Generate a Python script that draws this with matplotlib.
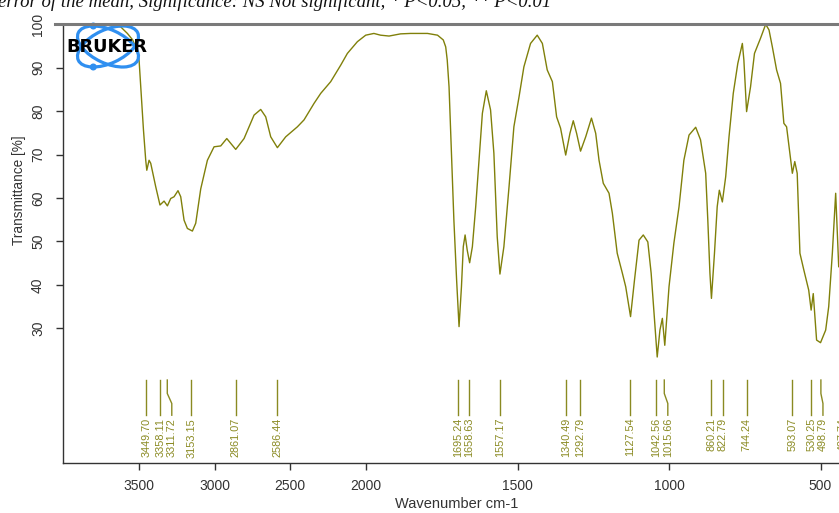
import numpy as np
import matplotlib
matplotlib.use("Agg")
import matplotlib.pyplot as plt
from matplotlib.patches import Ellipse, Circle
from matplotlib.lines import Line2D

# spectrum (wavenumber cm-1, transmittance %)
wavenumber = [3995, 3674, 3619, 3575, 3540, 3513, 3498, 3487, 3469, 3454,
              3447, 3432, 3421, 3388, 3360, 3333, 3311, 3289, 3267, 3241,
              3223, 3201, 3179, 3146, 3124, 3091, 3047, 3003, 2959, 2919,
              2893, 2860, 2805, 2739, 2695, 2662, 2629, 2585, 2530, 2453,
              2409, 2343, 2299, 2233, 2167, 2123, 2057, 2002, 1974, 1952,
              1924, 1886, 1853, 1797, 1764, 1745, 1737, 1732, 1726, 1718,
              1710, 1701, 1693, 1685, 1679, 1673, 1666, 1658, 1649, 1638,
              1627, 1616, 1603, 1589, 1578, 1567, 1558, 1545, 1528, 1512,
              1495, 1479, 1457, 1435, 1418, 1402, 1385, 1371, 1358, 1341,
              1327, 1316, 1305, 1292, 1275, 1256, 1242, 1231, 1217, 1198,
              1187, 1171, 1154, 1143, 1127, 1114, 1099, 1085, 1070, 1059,
              1048, 1039, 1030, 1022, 1014, 1000, 984, 967, 951, 934,
              912, 896, 879, 872, 865, 860, 850, 841, 834, 824,
              813, 802, 788, 773, 758, 753, 744, 731, 718, 698,
              681, 670, 659, 645, 632, 621, 612, 601, 593, 585,
              577, 568, 555, 539, 531, 524, 513, 500, 483, 473,
              461, 450, 440]
transmittance = [100.0, 99.9, 99.4, 97.9, 96.4, 94.1, 91.8, 85.6, 75.7, 68.7,
                 66.4, 68.7, 68.0, 62.6, 58.4, 59.3, 58.2, 59.9, 60.3, 61.7,
                 60.3, 54.9, 53.0, 52.4, 54.2, 62.1, 68.7, 71.8, 72.0, 73.7,
                 72.6, 71.2, 73.7, 79.1, 80.4, 78.7, 74.1, 71.6, 74.1, 76.4,
                 78.0, 81.8, 84.1, 86.8, 90.6, 93.3, 96.0, 97.5, 97.9, 97.5,
                 97.3, 97.8, 97.9, 97.9, 97.5, 96.4, 94.8, 91.8, 85.6, 70.3,
                 54.9, 41.1, 30.4, 39.6, 48.8, 51.5, 48.0, 45.1, 48.8, 58.0,
                 68.7, 79.5, 84.7, 80.3, 70.3, 51.1, 42.5, 48.8, 62.6, 76.4,
                 83.3, 90.2, 95.6, 97.5, 95.6, 89.5, 86.8, 78.7, 76.1, 69.9,
                 74.9, 77.8, 74.9, 70.8, 74.1, 78.4, 74.9, 68.7, 63.4, 61.1,
                 56.5, 47.3, 42.7, 39.6, 32.7, 41.1, 50.3, 51.5, 49.9, 42.7,
                 31.9, 23.4, 29.6, 32.3, 26.1, 39.6, 49.6, 58.0, 68.7, 74.5,
                 76.3, 73.4, 65.7, 54.9, 42.7, 36.9, 47.3, 58.0, 61.8, 59.1,
                 64.9, 74.1, 84.1, 91.0, 95.6, 91.8, 79.9, 85.6, 93.3, 96.8,
                 100.0, 98.7, 94.8, 89.5, 86.4, 77.2, 76.4, 70.3, 65.7, 68.4,
                 65.7, 47.3, 43.4, 38.8, 34.2, 38.0, 27.3, 26.7, 29.6, 35.0,
                 47.3, 61.1, 44.2]

peak_wn = [3449.70, 3358.11, 3311.72, 3153.15, 2861.07, 2586.44, 1695.24,
           1658.63, 1557.17, 1340.49, 1292.79, 1127.54, 1042.56, 1015.66,
           860.21, 822.79, 744.24, 593.07, 530.25, 498.79, 427.74]
# where the label sits when it had to be moved aside
label_wn = [3449.70, 3358.11, 3282.0, 3153.15, 2861.07, 2586.44, 1695.24,
            1658.63, 1557.17, 1340.49, 1292.79, 1127.54, 1042.56, 1004.0,
            860.21, 822.79, 744.24, 593.07, 530.25, 492.0, 427.74]

x_ticks = [3500, 3000, 2500, 2000, 1500, 1000, 500]
y_ticks = [30, 40, 50, 60, 70, 80, 90, 100]

line_col = "#80800a"
lab_col = "#8a8a22"


# OPUS style axis: region above 2000 cm-1 is compressed by half
def fwd(x):
    x = np.asarray(x, dtype=float)
    return np.where(x > 2000, 2000 + (x - 2000) / 2, x)


def inv(y):
    y = np.asarray(y, dtype=float)
    return np.where(y > 2000, 2000 + (y - 2000) * 2, y)


plt.rcParams["font.family"] = ["Liberation Sans", "DejaVu Sans"]

fig = plt.figure(figsize=(8.39, 5.13), dpi=100)
ax = fig.add_axes([0.0751, 0.098, 0.939, 0.8546])
ax.set_xscale("function", functions=(fwd, inv))

ax.plot(wavenumber, transmittance, color=line_col, lw=1.0)

for p, l in zip(peak_wn, label_wn):
    if p == l:
        ax.plot([p, p], [18.1, 10.0], color=lab_col, lw=1.0)
    else:
        ax.plot([p, p, l, l], [18.1, 15.0, 12.7, 10.0], color=lab_col, lw=1.0)
    ax.text(l, 9.4, f"{p:.2f}", rotation=90, ha="center", va="top",
            fontsize=7.8, color=lab_col)

ax.set_xlim(4000, 400)
ax.set_ylim(-0.94, 100)
ax.set_xticks(x_ticks)
ax.set_xticklabels([str(t) for t in x_ticks])
ax.set_yticks(y_ticks)
ax.set_yticklabels([str(t) for t in y_ticks], rotation=90, va="center")
ax.tick_params(axis="both", length=5, width=1.0, color="#333333",
               labelsize=10, labelcolor="#333333")
ax.tick_params(axis="x", pad=7)
ax.tick_params(axis="y", pad=8)
ax.xaxis.set_minor_locator(matplotlib.ticker.NullLocator())

for s in ["top", "right"]:
    ax.spines[s].set_visible(False)
for s in ["left", "bottom"]:
    ax.spines[s].set_color("#333333")
    ax.spines[s].set_linewidth(1.0)

ax.set_xlabel("Wavenumber cm-1", fontsize=10.5, color="#333333")
ax.xaxis.set_label_coords(0.5, -0.094)
ax.xaxis.label.set_va("center")
ax.set_ylabel("Transmittance [%]", fontsize=9.8, color="#333333")
ax.yaxis.set_label_coords(-0.056, 0.622)
ax.yaxis.label.set_va("center")

# grey frame line along the top
fig.add_artist(Line2D([55 / 839, 1.0], [489 / 513, 489 / 513], color="#7a7a7a",
                      lw=2.2, transform=fig.transFigure))

# caption left over from the page above (cut off)
fig.text(-2 / 839, 506 / 513,
         "error of the mean, Significance: NS Not significant, * P<0.05, ** P<0.01",
         fontsize=13.5, style="italic", family="Liberation Serif", va="baseline",
         color="#111111")

# Bruker logo
lax = fig.add_axes([60 / 839, 438 / 513, 95 / 839, 55 / 513])
lax.set_xlim(60, 155)
lax.set_ylim(75, 20)
lax.axis("off")
blue = "#2f8ff0"
lax.add_patch(Ellipse((108, 46.5), 65.4, 33.5, angle=24.9, fill=False, ec=blue, lw=2.3))
lax.add_patch(Ellipse((108, 46.5), 65.4, 33.5, angle=-24.9, fill=False, ec=blue, lw=2.3))
lax.add_patch(Circle((93.3, 26), 2.8, color=blue))
lax.add_patch(Circle((93.3, 67), 2.8, color=blue))
lax.text(106.7, 46.7, "BRUKER", ha="center", va="center", fontsize=12.8,
         fontweight="bold", family="DejaVu Sans", color="black")

fig.savefig("out.png", dpi=100)
